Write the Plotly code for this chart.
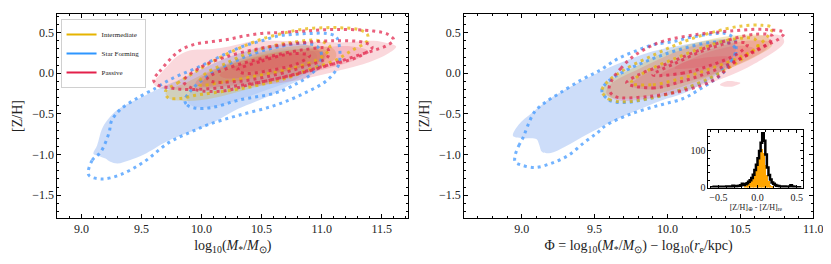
import plotly.graph_objects as go

# ---------------- data: contour outlines ----------------
# LEFT panel (x = log10 M*/Msun, y = [Z/H])
L_SF_F1_X = [9.10, 9.13, 9.17, 9.22, 9.30, 9.45, 9.60, 9.75, 9.90, 10.10, 10.30, 10.50, 10.70, 10.90, 11.02, 11.00, 10.90, 10.75, 10.61, 10.30, 10.08, 9.87, 9.71, 9.52, 9.40, 9.30, 9.24, 9.20, 9.15]
L_SF_F1_Y = [-0.99, -0.89, -0.69, -0.57, -0.45, -0.33, -0.22, -0.12, -0.02, 0.12, 0.24, 0.32, 0.36, 0.34, 0.22, 0.08, -0.03, -0.13, -0.25, -0.44, -0.62, -0.74, -0.84, -1.00, -1.07, -1.11, -1.09, -1.05, -1.02]
L_SF_F2_X = [9.88, 9.92, 10.00, 10.12, 10.30, 10.55, 10.80, 10.95, 10.95, 10.80, 10.50, 10.20, 10.00, 9.90]
L_SF_F2_Y = [-0.33, -0.40, -0.42, -0.41, -0.33, -0.20, -0.06, 0.10, 0.25, 0.30, 0.25, 0.10, -0.10, -0.25]
L_SF_D1_X = [9.06, 9.09, 9.16, 9.23, 9.25, 9.32, 9.46, 9.62, 9.71, 9.82, 9.95, 10.09, 10.23, 10.36, 10.50, 10.64, 10.77, 10.91, 11.04, 11.12, 11.15, 11.14, 11.05, 10.85, 10.60, 10.30, 10.06, 9.90, 9.73, 9.52, 9.32, 9.17]
L_SF_D1_Y = [-1.25, -1.07, -0.97, -0.73, -0.59, -0.45, -0.31, -0.18, -0.10, -0.02, 0.06, 0.16, 0.26, 0.34, 0.40, 0.46, 0.48, 0.49, 0.49, 0.45, 0.30, 0.10, -0.08, -0.25, -0.40, -0.52, -0.63, -0.73, -0.85, -1.09, -1.25, -1.30]
L_SF_D2_X = [9.86, 9.88, 9.95, 10.09, 10.31, 10.61, 10.72, 10.80, 10.87, 10.95, 11.00, 10.97, 10.85, 10.65, 10.45, 10.25, 10.05, 9.92]
L_SF_D2_Y = [-0.33, -0.39, -0.43, -0.42, -0.33, -0.245, -0.18, -0.12, -0.06, 0.05, 0.20, 0.32, 0.37, 0.33, 0.25, 0.13, -0.03, -0.20]

L_IM_F1_X = [9.70, 9.73, 9.85, 10.00, 10.20, 10.40, 10.60, 10.80, 11.00, 11.12, 11.10, 10.95, 10.70, 10.40, 10.10, 9.85]
L_IM_F1_Y = [-0.24, -0.31, -0.34, -0.33, -0.27, -0.19, -0.11, -0.03, 0.08, 0.20, 0.30, 0.34, 0.32, 0.22, 0.05, -0.13]
L_IM_F2_X = [10.00, 10.20, 10.50, 10.80, 11.00, 11.05, 10.90, 10.60, 10.30, 10.05]
L_IM_F2_Y = [-0.15, -0.12, -0.04, 0.06, 0.16, 0.27, 0.30, 0.26, 0.14, -0.03]
L_IM_D1_X = [9.70, 9.80, 9.95, 10.10, 10.30, 10.50, 10.70, 10.83, 11.00, 11.16, 11.30, 11.38, 11.38, 11.25, 11.10, 10.88, 10.75, 10.61, 10.36, 10.10, 9.95, 9.82, 9.72]
L_IM_D1_Y = [-0.22, -0.12, 0.02, 0.15, 0.30, 0.42, 0.50, 0.54, 0.56, 0.56, 0.54, 0.48, 0.40, 0.28, 0.15, 0.04, -0.04, -0.10, -0.18, -0.24, -0.27, -0.31, -0.30]
L_IM_D2_X = [9.98, 10.20, 10.50, 10.80, 11.00, 11.07, 10.98, 10.75, 10.45, 10.20, 10.02]
L_IM_D2_Y = [-0.14, -0.10, -0.02, 0.08, 0.20, 0.32, 0.40, 0.38, 0.28, 0.12, -0.02]

L_PA_F1_X = [9.60, 9.65, 9.71, 9.79, 9.90, 10.09, 10.23, 10.45, 10.61, 10.90, 11.16, 11.43, 11.55, 11.62, 11.55, 11.40, 11.16, 10.88, 10.60, 10.30, 10.00, 9.75, 9.63]
L_PA_F1_Y = [-0.12, -0.02, 0.08, 0.20, 0.28, 0.30, 0.33, 0.40, 0.40, 0.39, 0.38, 0.40, 0.37, 0.33, 0.24, 0.14, 0.04, -0.06, -0.13, -0.18, -0.20, -0.20, -0.17]
L_PA_F2_X = [9.95, 10.10, 10.40, 10.70, 11.00, 11.25, 11.38, 11.30, 11.05, 10.80, 10.50, 10.20, 10.00]
L_PA_F2_Y = [-0.12, 0.04, 0.18, 0.27, 0.32, 0.33, 0.28, 0.18, 0.06, -0.02, -0.10, -0.16, -0.17]
L_PA_F3_X = [10.15, 10.30, 10.55, 10.80, 11.00, 11.05, 10.90, 10.65, 10.40, 10.20]
L_PA_F3_Y = [-0.02, 0.10, 0.20, 0.26, 0.27, 0.20, 0.10, 0.02, -0.04, -0.06]
L_PA_F4_X = [10.25, 10.45, 10.70, 10.88, 10.85, 10.60, 10.35]
L_PA_F4_Y = [0.06, 0.16, 0.24, 0.22, 0.14, 0.06, 0.02]
L_PA_D1_X = [9.60, 9.65, 9.73, 9.82, 9.95, 10.09, 10.23, 10.36, 10.50, 10.64, 10.86, 11.13, 11.43, 11.55, 11.60, 11.54, 11.43, 11.30, 11.10, 10.90, 10.65, 10.40, 10.15, 9.90, 9.76, 9.63]
L_PA_D1_Y = [-0.08, 0.02, 0.16, 0.28, 0.36, 0.39, 0.42, 0.46, 0.49, 0.50, 0.52, 0.54, 0.52, 0.48, 0.41, 0.34, 0.28, 0.22, 0.12, 0.03, -0.06, -0.13, -0.18, -0.20, -0.185, -0.14]
L_PA_D2_X = [9.85, 10.00, 10.20, 10.50, 10.80, 11.10, 11.35, 11.42, 11.30, 11.00, 10.70, 10.40, 10.17, 9.95]
L_PA_D2_Y = [-0.10, 0.08, 0.20, 0.31, 0.37, 0.40, 0.38, 0.32, 0.20, 0.08, -0.04, -0.14, -0.22, -0.20]
L_PA_D3_X = [10.05, 10.25, 10.55, 10.85, 11.05, 11.05, 10.85, 10.55, 10.30, 10.08]
L_PA_D3_Y = [-0.06, 0.08, 0.20, 0.29, 0.30, 0.20, 0.08, -0.04, -0.10, -0.10]
L_PA_D4_X = [10.30, 10.50, 10.75, 10.90, 10.80, 10.55, 10.35]
L_PA_D4_Y = [0.04, 0.15, 0.24, 0.22, 0.12, 0.03, 0.00]

# RIGHT panel (x = Phi, y = [Z/H])
R_SF_F1_X = [8.94, 8.98, 9.07, 9.18, 9.34, 9.47, 9.60, 9.75, 9.90, 10.05, 10.20, 10.35, 10.45, 10.47, 10.42, 10.35, 10.25, 10.12, 9.95, 9.80, 9.58, 9.45, 9.30, 9.20, 9.14, 9.12, 9.10, 9.00]
R_SF_F1_Y = [-0.77, -0.63, -0.49, -0.33, -0.16, -0.04, 0.07, 0.18, 0.27, 0.33, 0.38, 0.42, 0.40, 0.30, 0.12, 0.00, -0.12, -0.24, -0.34, -0.45, -0.63, -0.75, -0.90, -0.98, -0.97, -0.88, -0.81, -0.80]
R_SF_D1_X = [8.955, 8.98, 9.01, 9.04, 9.09, 9.16, 9.26, 9.41, 9.54, 9.66, 9.79, 9.90, 10.04, 10.15, 10.29, 10.40, 10.46, 10.47, 10.43, 10.38, 10.29, 10.20, 10.11, 9.95, 9.75, 9.58, 9.52, 9.43, 9.32, 9.20, 9.09, 9.00, 8.955]
R_SF_D1_Y = [-1.01, -0.89, -0.79, -0.65, -0.47, -0.36, -0.245, -0.08, 0.04, 0.18, 0.28, 0.35, 0.39, 0.44, 0.48, 0.49, 0.42, 0.28, 0.12, 0.00, -0.12, -0.22, -0.31, -0.39, -0.50, -0.64, -0.73, -0.85, -1.01, -1.11, -1.16, -1.13, -1.09]
R_SF_D2_X = [9.55, 9.60, 9.70, 9.90, 10.10, 10.28, 10.40, 10.47, 10.44, 10.30, 10.10, 9.90, 9.70, 9.58]
R_SF_D2_Y = [-0.22, -0.33, -0.36, -0.30, -0.20, -0.08, 0.08, 0.25, 0.36, 0.38, 0.30, 0.18, 0.02, -0.12]

R_IM_F1_X = [9.55, 9.62, 9.80, 10.00, 10.20, 10.40, 10.60, 10.72, 10.68, 10.50, 10.25, 10.00, 9.80, 9.62]
R_IM_F1_Y = [-0.22, -0.30, -0.30, -0.22, -0.10, 0.04, 0.20, 0.35, 0.45, 0.47, 0.40, 0.27, 0.10, -0.08]
R_IM_D1_X = [9.55, 9.60, 9.70, 9.90, 10.10, 10.30, 10.45, 10.60, 10.69, 10.72, 10.65, 10.50, 10.30, 10.10, 9.90, 9.70, 9.58]
R_IM_D1_Y = [-0.22, -0.32, -0.35, -0.30, -0.20, -0.05, 0.10, 0.30, 0.46, 0.56, 0.59, 0.58, 0.50, 0.38, 0.22, 0.04, -0.12]
R_IM_D2_X = [9.75, 9.90, 10.10, 10.30, 10.50, 10.62, 10.60, 10.45, 10.25, 10.05, 9.85]
R_IM_D2_Y = [-0.12, -0.14, -0.06, 0.06, 0.20, 0.33, 0.42, 0.42, 0.32, 0.18, 0.02]

R_PA_F1_X = [9.58, 9.65, 9.80, 10.00, 10.20, 10.40, 10.60, 10.80, 10.78, 10.60, 10.40, 10.20, 10.00, 9.80, 9.62]
R_PA_F1_Y = [-0.24, -0.33, -0.33, -0.27, -0.17, -0.05, 0.12, 0.38, 0.46, 0.46, 0.42, 0.35, 0.22, 0.05, -0.12]
R_PA_F1B_X = [10.36, 10.40, 10.46, 10.50, 10.46, 10.40]
R_PA_F1B_Y = [-0.14, -0.10, -0.10, -0.12, -0.155, -0.165]
R_PA_F2_X = [9.75, 9.90, 10.10, 10.30, 10.50, 10.68, 10.70, 10.55, 10.30, 10.05, 9.85]
R_PA_F2_Y = [-0.15, -0.20, -0.12, -0.02, 0.12, 0.30, 0.38, 0.40, 0.30, 0.15, 0.00]
R_PA_F3_X = [9.95, 10.10, 10.30, 10.50, 10.60, 10.50, 10.30, 10.10]
R_PA_F3_Y = [-0.02, -0.02, 0.06, 0.18, 0.30, 0.34, 0.27, 0.12]
R_PA_F4_X = [10.05, 10.20, 10.38, 10.42, 10.30, 10.10]
R_PA_F4_Y = [0.06, 0.07, 0.13, 0.20, 0.20, 0.13]
R_PA_D1_X = [9.62, 9.68, 9.76, 9.87, 9.98, 10.21, 10.43, 10.66, 10.80, 10.77, 10.60, 10.45, 10.32, 10.14, 9.87, 9.64, 9.60]
R_PA_D1_Y = [-0.08, 0.06, 0.20, 0.32, 0.40, 0.48, 0.52, 0.54, 0.50, 0.43, 0.28, 0.12, -0.08, -0.20, -0.285, -0.285, -0.20]
R_PA_D2_X = [9.72, 9.90, 10.10, 10.30, 10.50, 10.70, 10.72, 10.60, 10.40, 10.20, 10.00, 9.80]
R_PA_D2_Y = [-0.12, -0.18, -0.10, 0.02, 0.18, 0.38, 0.46, 0.48, 0.40, 0.27, 0.12, -0.02]
R_PA_D3_X = [9.90, 10.10, 10.30, 10.48, 10.55, 10.45, 10.25, 10.05]
R_PA_D3_Y = [-0.02, 0.00, 0.10, 0.24, 0.36, 0.38, 0.28, 0.12]

# inset histogram: bin edges from -0.60 in steps of 0.02
HIST_START = -0.60
HIST_BIN = 0.02
HIST_ALL = [1, 1, 2, 1, 2, 1, 2, 2, 1, 2, 3, 2, 3, 2, 5, 4, 3, 4, 5, 6, 10, 7, 9, 12, 16, 20, 26, 35, 48, 62,
            80, 100, 122, 148, 128, 90, 55, 34, 22, 14, 10, 7, 5, 4, 3, 3, 2, 3, 2, 2, 3, 6, 3, 2, 1, 1, 1, 0]
HIST_SUB_START = -0.16
HIST_SUB = [3, 6, 10, 14, 20, 28, 40, 52, 68, 85, 98, 106, 95, 62, 35, 18, 9, 4, 1]

LEGEND_NAMES = ["Intermediate", "Star Forming", "Passive"]
LEGEND_COLORS = ["#e6b400", "#2e96ff", "#e3204b"]

# ---------------- styles ----------------
FONT = "Liberation Serif"
SF_FILL = "rgba(100,149,237,0.32)"
SF_FILL2 = "rgba(100,149,237,0.18)"
IM_FILL = "rgba(215,180,50,0.30)"
PA_FILL = "rgba(230,60,80,0.20)"
SF_DOT = "rgba(60,150,255,0.72)"
IM_DOT = "rgba(230,180,0,0.72)"
PA_DOT = "rgba(225,30,70,0.70)"
DOT_W = 3.0
DOT_DASH = "3px,4px"

fig = go.Figure()


def closed(xs, ys):
    return list(xs) + [xs[0]], list(ys) + [ys[0]]


def add_fill(xs, ys, color, xa, ya):
    cx, cy = closed(xs, ys)
    fig.add_trace(go.Scatter(x=cx, y=cy, mode="lines", fill="toself", fillcolor=color,
                             line=dict(width=0, color=color, shape="spline", smoothing=1.0),
                             hoverinfo="skip", showlegend=False, xaxis=xa, yaxis=ya))


def add_dot(xs, ys, color, xa, ya):
    cx, cy = closed(xs, ys)
    fig.add_trace(go.Scatter(x=cx, y=cy, mode="lines",
                             line=dict(width=DOT_W, color=color, dash=DOT_DASH, shape="spline", smoothing=1.0),
                             hoverinfo="skip", showlegend=False, xaxis=xa, yaxis=ya))


# left panel
add_fill(L_SF_F1_X, L_SF_F1_Y, SF_FILL, "x", "y")
add_fill(L_SF_F2_X, L_SF_F2_Y, SF_FILL2, "x", "y")
add_fill(L_IM_F1_X, L_IM_F1_Y, IM_FILL, "x", "y")
add_fill(L_IM_F2_X, L_IM_F2_Y, IM_FILL, "x", "y")
for fx, fy in [(L_PA_F1_X, L_PA_F1_Y), (L_PA_F2_X, L_PA_F2_Y), (L_PA_F3_X, L_PA_F3_Y), (L_PA_F4_X, L_PA_F4_Y)]:
    add_fill(fx, fy, PA_FILL, "x", "y")
add_dot(L_SF_D1_X, L_SF_D1_Y, SF_DOT, "x", "y")
add_dot(L_SF_D2_X, L_SF_D2_Y, SF_DOT, "x", "y")
add_dot(L_IM_D1_X, L_IM_D1_Y, IM_DOT, "x", "y")
add_dot(L_IM_D2_X, L_IM_D2_Y, IM_DOT, "x", "y")
for dx, dy in [(L_PA_D1_X, L_PA_D1_Y), (L_PA_D2_X, L_PA_D2_Y), (L_PA_D3_X, L_PA_D3_Y), (L_PA_D4_X, L_PA_D4_Y)]:
    add_dot(dx, dy, PA_DOT, "x", "y")

# right panel
add_fill(R_SF_F1_X, R_SF_F1_Y, SF_FILL, "x2", "y2")
add_fill(R_IM_F1_X, R_IM_F1_Y, IM_FILL, "x2", "y2")
for fx, fy in [(R_PA_F1_X, R_PA_F1_Y), (R_PA_F1B_X, R_PA_F1B_Y), (R_PA_F2_X, R_PA_F2_Y), (R_PA_F3_X, R_PA_F3_Y), (R_PA_F4_X, R_PA_F4_Y)]:
    add_fill(fx, fy, PA_FILL, "x2", "y2")
add_dot(R_SF_D1_X, R_SF_D1_Y, SF_DOT, "x2", "y2")
add_dot(R_SF_D2_X, R_SF_D2_Y, SF_DOT, "x2", "y2")
add_dot(R_IM_D1_X, R_IM_D1_Y, IM_DOT, "x2", "y2")
add_dot(R_IM_D2_X, R_IM_D2_Y, IM_DOT, "x2", "y2")
for dx, dy in [(R_PA_D1_X, R_PA_D1_Y), (R_PA_D2_X, R_PA_D2_Y), (R_PA_D3_X, R_PA_D3_Y)]:
    add_dot(dx, dy, PA_DOT, "x2", "y2")

# legend entries
for n, c in zip(LEGEND_NAMES, LEGEND_COLORS):
    fig.add_trace(go.Scatter(x=[None], y=[None], mode="lines", name=n, line=dict(color=c, width=2),
                             xaxis="x", yaxis="y"))

# inset histogram
sub_centers = [HIST_SUB_START + HIST_BIN * (i + 0.5) for i in range(len(HIST_SUB))]
fig.add_trace(go.Bar(x=sub_centers, y=HIST_SUB, width=HIST_BIN, marker=dict(color="#ffa500", line=dict(width=0)),
                     showlegend=False, hoverinfo="skip", xaxis="x3", yaxis="y3"))
edges = [HIST_START + HIST_BIN * i for i in range(len(HIST_ALL) + 1)]
fig.add_trace(go.Scatter(x=edges, y=HIST_ALL + [HIST_ALL[-1]], mode="lines",
                         line=dict(color="black", width=2.5, shape="hv"),
                         showlegend=False, hoverinfo="skip", xaxis="x3", yaxis="y3"))

axis_common = dict(showgrid=False, zeroline=False, showline=True, linecolor="black", linewidth=1,
                   mirror="allticks", ticks="inside", ticklen=4, tickcolor="black",
                   tickfont=dict(family=FONT, size=12, color="#222"))

fig.update_layout(
    width=831, height=264, margin=dict(l=0, r=0, t=0, b=0),
    paper_bgcolor="white", plot_bgcolor="white",
    font=dict(family=FONT, color="#222"),
    barmode="overlay", bargap=0,
    xaxis=dict(domain=[0.0602, 0.4874], range=[8.8, 11.72], tickvals=[9.0, 9.5, 10.0, 10.5, 11.0, 11.5],
               tickformat=".1f", minor=dict(dtick=0.1, ticks="inside", ticklen=2, tickcolor="black"),
               title=dict(text="log<sub>10</sub>(<i>M</i><sub>*</sub>/<i>M</i><sub>⊙</sub>)",
                          font=dict(family=FONT, size=14), standoff=4),
               anchor="y", **axis_common),
    yaxis=dict(domain=[0.1894, 0.977], range=[-1.78, 0.73], tickvals=[-1.5, -1.0, -0.5, 0.0, 0.5],
               tickformat=".1f", minor=dict(dtick=0.1, ticks="inside", ticklen=2, tickcolor="black"),
               title=dict(text="[Z/H]", font=dict(family=FONT, size=14), standoff=6),
               anchor="x", **axis_common),
    xaxis2=dict(domain=[0.5556, 0.9807], range=[8.605, 11.0], tickvals=[9.0, 9.5, 10.0, 10.5, 11.0],
                tickformat=".1f", minor=dict(dtick=0.1, ticks="inside", ticklen=2, tickcolor="black"),
                title=dict(text="Φ = log<sub>10</sub>(<i>M</i><sub>*</sub>/<i>M</i><sub>⊙</sub>) − log<sub>10</sub>(<i>r</i><sub>e</sub>/kpc)",
                           font=dict(family=FONT, size=14), standoff=4),
                anchor="y2", **axis_common),
    yaxis2=dict(domain=[0.1894, 0.977], range=[-1.78, 0.73], tickvals=[-1.5, -1.0, -0.5, 0.0, 0.5],
                tickformat=".1f", minor=dict(dtick=0.1, ticks="inside", ticklen=2, tickcolor="black"),
                title=dict(text="[Z/H]", font=dict(family=FONT, size=14), standoff=6),
                anchor="x2", **axis_common),
    xaxis3=dict(domain=[0.8532, 0.9687], range=[-0.626, 0.585], tickvals=[-0.5, 0.0, 0.5], tickformat=".1f",
                minor=dict(dtick=0.1, ticks="inside", ticklen=2, tickcolor="black"),
                title=dict(text="[Z/H]<sub>⊕</sub> - [Z/H]<sub>re</sub>", font=dict(family=FONT, size=8), standoff=2),
                anchor="y3", showgrid=False, zeroline=False, showline=True, linecolor="black", linewidth=1,
                mirror="allticks", ticks="inside", ticklen=3, tickcolor="black",
                tickfont=dict(family=FONT, size=10, color="#222")),
    yaxis3=dict(domain=[0.3068, 0.5303], range=[0, 158], tickvals=[0, 100],
                minor=dict(dtick=20, ticks="inside", ticklen=2, tickcolor="black"),
                anchor="x3", showgrid=False, zeroline=False, showline=True, linecolor="black", linewidth=1,
                mirror="allticks", ticks="inside", ticklen=3, tickcolor="black",
                tickfont=dict(family=FONT, size=10, color="#222")),
    legend=dict(x=0.064, y=0.958, xanchor="left", yanchor="top", bgcolor="white",
                bordercolor="#d0d0d0", borderwidth=1, font=dict(family=FONT, size=7),
                itemwidth=30, tracegroupgap=0),
)

fig.write_html("out.html")
